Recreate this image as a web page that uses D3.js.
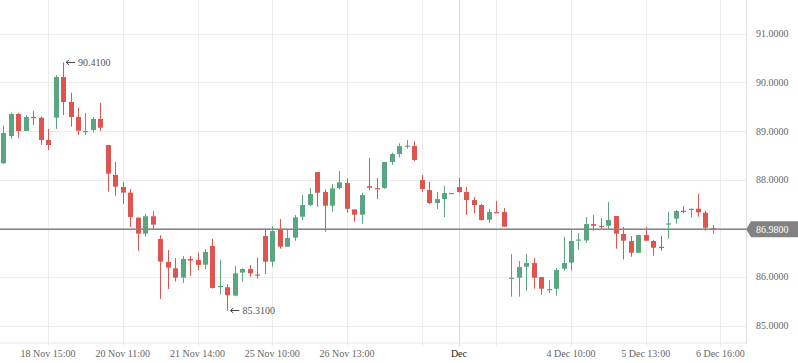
<!DOCTYPE html>
<html><head><meta charset="utf-8">
<script src="https://cdn.jsdelivr.net/npm/d3@7"></script>
<style>html,body{margin:0;padding:0;background:#fff;}svg{display:block;}</style>
</head><body>
<script>
const opens  = [88.336,88.897,89.349,89.0,89.288,89.274,88.815,89.274,90.11,89.596,89.288,88.99,89.021,89.247,88.712,88.096,87.849,87.733,87.219,86.89,87.247,86.781,86.308,86.178,85.986,86.37,86.35,86.253,86.637,85.79,85.788,85.616,86.089,86.162,86.05,86.841,86.313,86.978,86.621,86.807,87.238,87.478,88.156,87.745,87.464,87.827,87.93,87.389,87.28,87.868,87.827,87.827,88.362,88.526,88.69,88.69,87.992,87.786,87.519,87.6,87.72,87.848,87.745,87.581,87.478,87.176,87.334,87.334,85.977,85.984,86.21,86.286,85.998,85.74,85.758,86.169,86.293,86.75,86.75,87.087,87.05,87.053,87.252,86.882,86.738,86.498,86.861,86.738,86.62,87.09,87.197,87.36,87.38,87.402,87.32,87.005];
const highs  = [89.11,89.377,89.377,89.329,89.411,89.295,89.041,90.151,90.41,89.788,89.473,89.37,89.288,89.575,88.712,88.363,87.952,87.808,87.219,87.295,87.356,86.856,86.555,86.39,86.432,86.432,86.5,86.575,86.788,86.356,85.849,86.226,86.178,86.245,86.395,86.998,87.046,87.19,86.978,87.273,87.69,87.827,88.156,87.8,87.91,88.177,88.026,87.389,87.731,88.444,88.033,88.362,88.553,88.745,88.814,88.793,88.095,87.957,87.745,87.868,87.73,88.033,87.848,87.642,87.5,87.396,87.56,87.416,86.471,86.327,86.471,86.388,85.998,85.936,86.183,86.827,86.985,86.902,87.231,87.272,87.211,87.54,87.252,87.026,86.841,86.861,87.026,86.759,86.841,87.334,87.375,87.457,87.41,87.704,87.361,87.067];
const lows   = [88.32,88.842,88.863,89.0,89.123,88.712,88.61,89.041,89.329,89.089,88.918,88.918,88.966,89.0,87.753,87.671,87.5,87.027,86.534,86.829,86.986,85.548,85.753,85.904,85.877,86.021,86.137,86.164,85.76,85.637,85.31,85.603,85.904,86.005,85.964,86.06,86.21,86.58,86.621,86.745,87.17,87.457,87.444,86.93,87.341,87.806,87.32,87.136,87.094,87.779,87.6,87.814,88.307,88.458,88.636,88.383,87.745,87.5,87.395,87.23,87.715,87.73,87.273,87.313,87.156,87.115,87.32,87.03,85.594,85.594,85.717,85.758,85.635,85.662,85.614,86.128,86.128,86.56,86.704,86.95,86.99,86.99,86.58,86.36,86.416,86.498,86.745,86.436,86.539,86.786,87.094,87.306,87.224,87.238,86.95,86.889];
const closes = [88.959,89.349,89.0,89.288,89.274,88.815,88.712,90.11,89.596,89.288,89.007,89.0,89.247,89.068,88.123,87.856,87.733,87.233,86.89,87.247,87.075,86.315,86.192,85.986,86.37,86.336,86.247,86.514,85.774,85.815,85.623,86.075,86.164,86.073,86.03,86.313,86.943,86.621,86.8,87.225,87.478,87.704,87.731,87.464,87.82,87.944,87.4,87.28,87.683,87.834,87.814,88.362,88.526,88.69,88.70,88.403,87.807,87.519,87.6,87.724,87.725,87.745,87.581,87.478,87.17,87.334,87.32,87.033,85.985,86.203,86.286,85.984,85.758,85.751,86.142,86.286,86.738,86.77,87.087,87.053,87.03,87.17,86.889,86.745,86.498,86.861,86.745,86.601,86.60,87.10,87.354,87.34,87.40,87.327,87.012,86.98];
const tickIndex  = [6, 16, 26, 36, 46, 56, 61, 66, 76, 86, 96];
const tickLabels = ["18 Nov 15:00","20 Nov 11:00","21 Nov 14:00","25 Nov 10:00","26 Nov 13:00","","Dec","","4 Dec 10:00","5 Dec 13:00","6 Dec 16:00"];
const yTicks = [85, 86, 87, 88, 89, 90, 91];
const lastPrice = 86.98;
const maxMark = {index: 8, value: 90.41};
const minMark = {index: 30, value: 85.31};

const W = 798, H = 363, plotRight = 746, plotBottom = 342.5;
const green = "#59a680", red = "#e0544f";
const font = "'Liberation Serif','Times New Roman',serif";

const svg = d3.select("body").append("svg").attr("width", W).attr("height", H);
svg.append("rect").attr("width", W).attr("height", H).attr("fill", "#fff");

const x = d3.scaleLinear().domain([0, 96]).range([3.3, 720.4]);
const y = d3.scaleLinear().domain([85, 91]).range([325.6, 33.7]);

// grid
const g = svg.append("g");
g.selectAll(".hg").data(yTicks).join("line")
  .attr("x1", 0).attr("x2", plotRight)
  .attr("y1", d => Math.round(y(d)) + 0.5).attr("y2", d => Math.round(y(d)) + 0.5)
  .attr("stroke", "#ececec").attr("stroke-width", 1);
g.selectAll(".vg").data(tickIndex).join("line")
  .attr("x1", d => Math.round(x(d)) + 0.5).attr("x2", d => Math.round(x(d)) + 0.5)
  .attr("y1", 0).attr("y2", plotBottom + 4)
  .attr("stroke", (d, i) => tickLabels[i] === "Dec" ? "#dcdcdc" : "#ececec").attr("stroke-width", 1);

// axes lines
svg.append("line").attr("x1", plotRight + 0.5).attr("x2", plotRight + 0.5).attr("y1", 0).attr("y2", plotBottom + 1)
  .attr("stroke", "#e0e0e0");
svg.append("line").attr("x1", 0).attr("x2", plotRight).attr("y1", plotBottom + 0.5).attr("y2", plotBottom + 0.5)
  .attr("stroke", "#e6e6e6");

// y labels
svg.selectAll(".yl").data(yTicks.filter(d => d !== 87)).join("text")
  .attr("x", 756).attr("y", d => y(d)).attr("dy", "0.35em")
  .attr("font-family", font).attr("font-size", 10).attr("fill", "#666")
  .text(d => d3.format(".4f")(d));

// x labels
svg.selectAll(".xl").data(tickIndex).join("text")
  .attr("x", d => x(d)).attr("y", 357).attr("text-anchor", "middle")
  .attr("font-family", font).attr("font-size", 10)
  .attr("fill", (d, i) => tickLabels[i] === "Dec" ? "#222" : "#666")
  .text((d, i) => tickLabels[i]);

// candles
const idx = d3.range(opens.length);
const cg = svg.append("g");
cg.selectAll(".wick").data(idx).join("line")
  .attr("x1", i => Math.round(x(i)) + 0.5).attr("x2", i => Math.round(x(i)) + 0.5)
  .attr("y1", i => y(highs[i])).attr("y2", i => y(lows[i]))
  .attr("stroke", i => closes[i] >= opens[i] ? green : red).attr("stroke-width", 1);
cg.selectAll(".body").data(idx).join("rect")
  .attr("x", i => Math.round(x(i)) - 2)
  .attr("width", 5)
  .attr("y", i => y(Math.max(opens[i], closes[i])))
  .attr("height", i => Math.max(1.2, Math.abs(y(opens[i]) - y(closes[i]))))
  .attr("fill", i => closes[i] >= opens[i] ? green : red);

// price line
svg.append("line").attr("x1", 0).attr("x2", plotRight).attr("y1", y(lastPrice)).attr("y2", y(lastPrice))
  .attr("stroke", "#858585").attr("stroke-width", 1.3);
const py = y(lastPrice);
svg.append("path")
  .attr("d", `M${plotRight},${py} L${plotRight + 5},${py - 8} L${W},${py - 8} L${W},${py + 8} L${plotRight + 5},${py + 8} Z`)
  .attr("fill", "#828282");
svg.append("text").attr("x", 756).attr("y", py).attr("dy", "0.35em")
  .attr("font-family", font).attr("font-size", 10).attr("fill", "#fff")
  .text(d3.format(".4f")(lastPrice));

// extreme markers
[maxMark, minMark].forEach(m => {
  const mx = x(m.index) + 3, my = y(m.value);
  svg.append("path").attr("d", `M${mx},${my} h9 M${mx},${my} l3,-2.5 M${mx},${my} l3,2.5`)
    .attr("stroke", "#444").attr("fill", "none").attr("stroke-width", 1);
  svg.append("text").attr("x", mx + 12).attr("y", my).attr("dy", "0.35em")
    .attr("font-family", font).attr("font-size", 10).attr("fill", "#555")
    .text(d3.format(".4f")(m.value));
});
</script>
</body></html>
